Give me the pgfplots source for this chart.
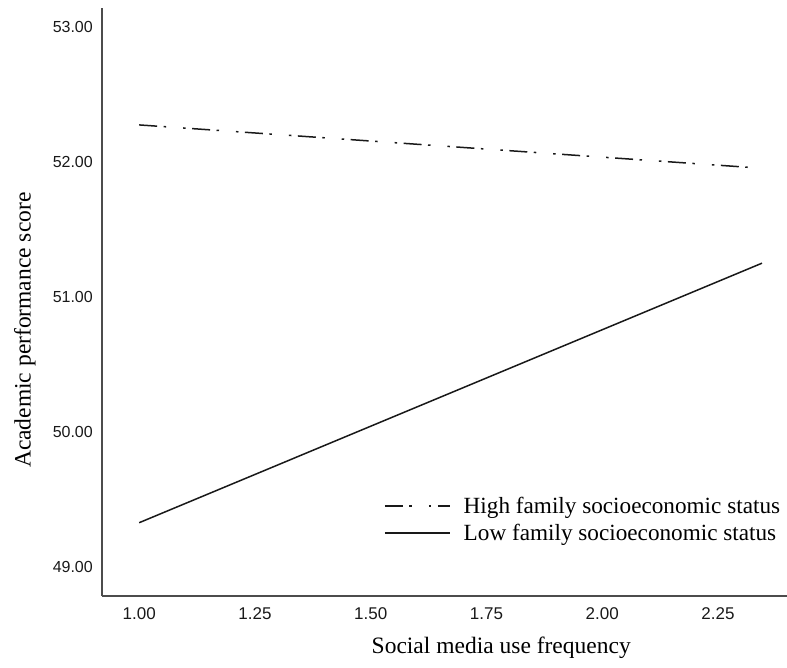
\documentclass[border=0pt]{standalone}
\usepackage{fontspec}
\setmainfont{Liberation Serif}
\newfontfamily\tickfont{Liberation Sans}
\usepackage{pgfplots}
\pgfplotsset{compat=1.18}
\begin{document}
\begin{tikzpicture}
\begin{axis}[
  at={(0pt,0pt)}, anchor=origin,
  scale only axis,
  width=685.3pt, height=588pt,
  xmin=0.919, xmax=2.399,
  ymin=48.785, ymax=53.14,
  axis x line*=bottom, axis y line*=left,
  axis line style={line width=1.8pt, black!70, -},
  major tick length=0pt,
  xtick={1,1.25,1.5,1.75,2,2.25},
  ytick={49,50,51,52,53},
  /pgf/number format/.cd, fixed, fixed zerofill, precision=2, assume math mode=true,
  /pgfplots/.cd,
  xticklabel style={font=\tickfont\fontsize{17}{20}\selectfont, anchor=center, yshift=-18pt, inner sep=0pt, text=black!90},
  yticklabel style={font=\tickfont\fontsize{16}{19}\selectfont, anchor=east, inner sep=0pt, xshift=-8.7pt, text=black!90},
  xlabel={Social media use frequency},
  ylabel={Academic performance score},
  xlabel style={font=\fontsize{23.5}{28}\selectfont, at={(axis description cs:0.583,-0.088)}, anchor=center},
  ylabel style={font=\fontsize{23.5}{28}\selectfont, at={(axis description cs:-0.112,0.452)}, anchor=center, rotate=0},
  legend style={draw=none, fill=none, font=\fontsize{23.2}{27}\selectfont,
    at={(axis description cs:0.412,0.172)}, anchor=north west, inner sep=0pt,
    row sep=5pt, nodes={inner sep=2pt},
    /tikz/every odd column/.append style={column sep=11pt}},
  legend cell align=left,
  legend image code/.code={\draw[#1] (0pt,0pt) -- (65pt,0pt);},
]
\addplot[black!90, line width=1.5pt, dash pattern=on 18pt off 6.5pt on 2.5pt off 17pt on 2.5pt off 6.5pt] coordinates {(1.00,52.274) (2.345,51.953)};
\addlegendentry{High family socioeconomic status}
\addplot[black!90, line width=1.5pt] coordinates {(1.00,49.328) (2.345,51.25)};
\addlegendentry{Low family socioeconomic status}
\end{axis}
\pgfresetboundingbox
\path[use as bounding box] (-101.7pt,-71pt) rectangle (685.3pt,596pt);
\end{tikzpicture}
\end{document}
